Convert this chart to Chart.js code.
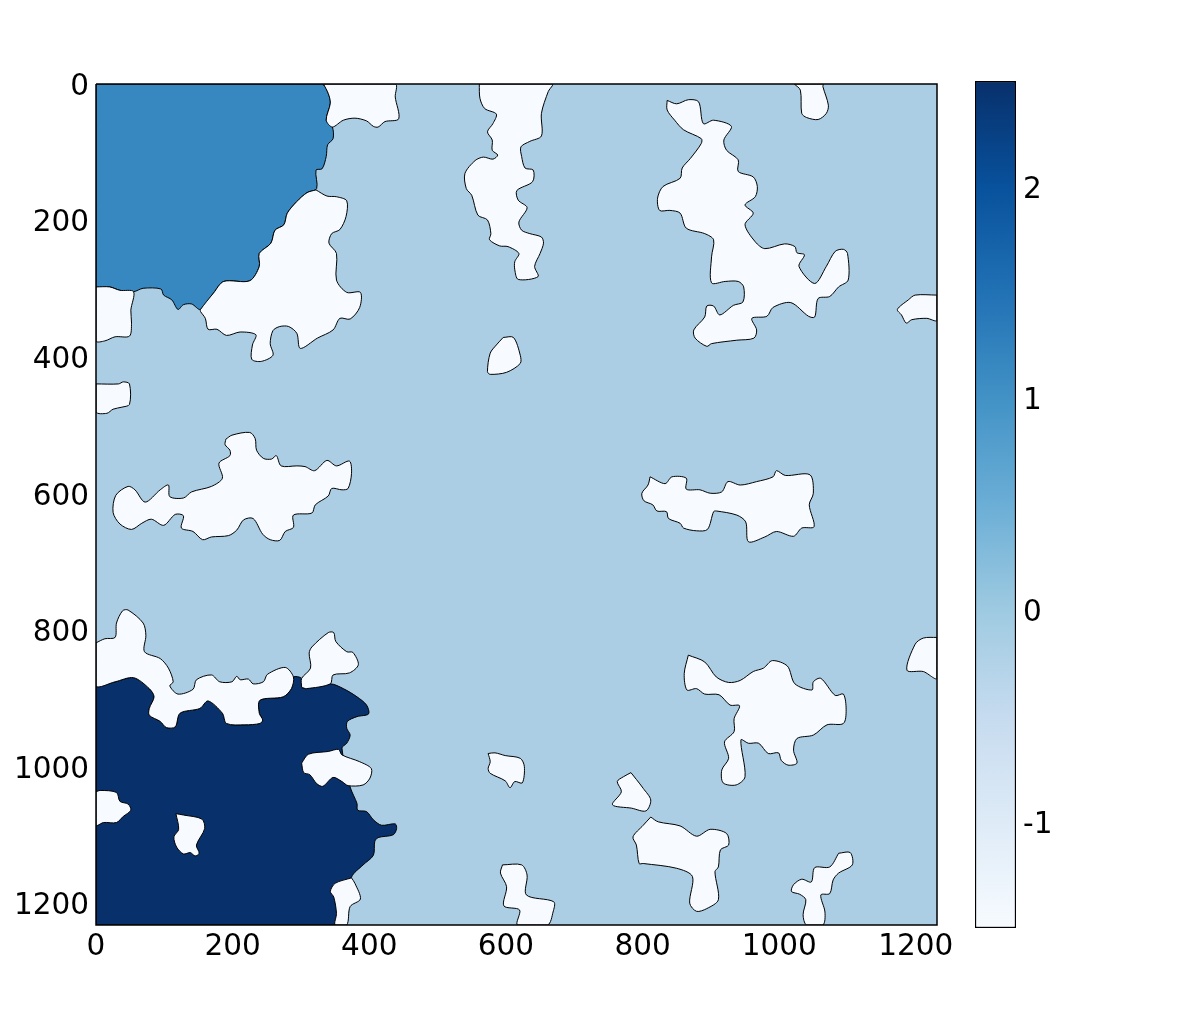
<!DOCTYPE html>
<html>
<head>
<meta charset="utf-8">
<script src="https://cdn.jsdelivr.net/npm/chart.js@4/dist/chart.umd.min.js"></script>
<style>
    body { margin: 0; background: #fff; }
    canvas { position: absolute; top: 0; }
    #mapChart { left: 0; }
    #barChart { left: 960px; }
</style>
</head>
<body>
<canvas id="mapChart" width="1196" height="1009"></canvas>
<canvas id="barChart" width="236" height="1009"></canvas>
<script>
// image size and tick labels
const imageSize = 1231;
const mapTicks = [0, 200, 400, 600, 800, 1000, 1200];
const barTicks = [-1, 0, 1, 2];
const barRange = [-1.5, 2.5];

// colormap stops (Blues), bottom to top
const blues = ['#f7fbff', '#deebf7', '#c6dbef', '#9ecae1', '#6baed6', '#4292c6', '#2171b5', '#08519c', '#08306b'];

// region colours
const lightColor = '#f7fbff';
const backColor = '#abcee4';
const midColor = '#3787c0';
const darkColor = '#08306b';

// region outlines, [col, row] in image units
const wholeImage = [[0, 0], [1231, 0], [1231, 1231], [0, 1231]];

const midRegion = [[0, 0], [330, 0], [340, 14], [343, 28], [337, 53], [346, 63], [347, 80], [339, 89], [337, 106], [331, 124], [322, 126], [323, 153], [309, 159], [294, 172], [280, 189], [275, 206], [262, 214], [256, 233], [239, 248], [239, 267], [225, 288], [187, 289], [172, 306], [153, 330], [140, 322], [128, 323], [120, 330], [111, 316], [99, 309], [95, 300], [69, 299], [55, 304], [35, 302], [20, 297], [0, 297]];

const darkRegion = [[0, 881], [28, 875], [55, 869], [78, 885], [85, 897], [78, 914], [78, 924], [94, 933], [103, 942], [116, 941], [123, 921], [152, 914], [164, 903], [185, 921], [191, 936], [218, 938], [240, 936], [244, 931], [239, 921], [240, 902], [274, 897], [286, 885], [289, 868], [301, 870], [301, 883], [308, 885], [343, 878], [362, 885], [382, 897], [396, 909], [399, 922], [382, 926], [368, 933], [367, 943], [372, 953], [367, 965], [360, 972], [372, 1029], [382, 1053], [383, 1063], [396, 1065], [406, 1077], [418, 1085], [438, 1083], [440, 1090], [435, 1099], [413, 1103], [408, 1109], [406, 1129], [391, 1143], [374, 1161], [358, 1231], [0, 1231]];

const topNotch = [[333, 0], [340, 14], [343, 28], [337, 53], [346, 63], [362, 53], [379, 50], [396, 54], [406, 62], [413, 63], [423, 55], [443, 51], [438, 19], [438, 0]];
const underMid = [[322, 155], [338, 164], [352, 165], [367, 171], [366, 194], [357, 213], [345, 219], [341, 233], [352, 248], [352, 287], [367, 305], [387, 305], [386, 327], [372, 344], [357, 343], [347, 360], [324, 372], [299, 387], [294, 365], [282, 355], [269, 355], [259, 361], [255, 380], [259, 397], [242, 406], [228, 403], [229, 382], [234, 367], [211, 363], [191, 368], [177, 359], [164, 359], [160, 343], [153, 333], [153, 330], [172, 306], [187, 289], [225, 288], [239, 267], [239, 248], [256, 233], [262, 214], [275, 206], [280, 189], [294, 172], [309, 159]];
const leftUpper = [[0, 297], [20, 297], [35, 302], [55, 304], [51, 331], [52, 350], [49, 369], [28, 370], [13, 376], [0, 376]];
const leftMiddle = [[0, 439], [33, 439], [40, 436], [49, 439], [49, 469], [38, 473], [25, 476], [16, 482], [0, 480]];
const topCenter = [[561, 0], [562, 21], [569, 36], [586, 44], [581, 58], [573, 70], [580, 82], [580, 97], [588, 104], [581, 110], [567, 107], [555, 112], [540, 131], [542, 153], [550, 163], [559, 192], [573, 199], [578, 219], [576, 228], [591, 237], [603, 238], [619, 248], [613, 260], [613, 272], [618, 286], [647, 282], [642, 267], [650, 248], [655, 233], [652, 224], [635, 219], [623, 214], [619, 202], [631, 181], [618, 170], [616, 156], [639, 143], [640, 126], [628, 123], [623, 106], [622, 92], [635, 84], [652, 76], [652, 43], [662, 11], [668, 0]];
const centerSmall = [[596, 371], [611, 371], [621, 397], [621, 409], [601, 422], [577, 425], [573, 421], [577, 394], [586, 382]];
const topRightSmall = [[1022, 0], [1031, 9], [1033, 43], [1040, 49], [1057, 52], [1069, 43], [1072, 31], [1064, 4], [1064, 0]];
const topRightBig = [[836, 24], [850, 29], [867, 23], [882, 26], [889, 58], [904, 53], [930, 62], [919, 82], [923, 97], [940, 111], [940, 128], [962, 136], [968, 150], [965, 165], [950, 177], [962, 189], [950, 206], [965, 231], [979, 241], [1008, 234], [1023, 238], [1026, 247], [1037, 250], [1029, 267], [1052, 292], [1069, 267], [1082, 245], [1094, 242], [1100, 248], [1101, 287], [1087, 297], [1074, 311], [1057, 314], [1052, 341], [1043, 340], [1017, 320], [991, 327], [982, 340], [960, 343], [967, 360], [963, 372], [938, 375], [901, 380], [894, 384], [877, 372], [875, 360], [891, 341], [894, 325], [904, 325], [913, 338], [933, 324], [947, 319], [948, 297], [940, 289], [921, 289], [901, 291], [901, 253], [904, 228], [891, 219], [864, 211], [855, 189], [840, 185], [825, 185], [822, 167], [830, 150], [855, 138], [858, 123], [870, 109], [886, 87], [886, 80], [860, 67], [847, 53], [836, 38]];
const rightUpper = [[1231, 309], [1199, 309], [1189, 316], [1173, 330], [1179, 338], [1186, 350], [1194, 345], [1216, 343], [1231, 346]];
const middleLeft = [[190, 520], [199, 514], [225, 510], [233, 519], [235, 536], [245, 548], [257, 549], [264, 544], [271, 559], [294, 559], [306, 560], [320, 566], [338, 551], [352, 559], [371, 552], [374, 570], [369, 592], [360, 594], [345, 592], [340, 603], [321, 616], [316, 628], [289, 631], [289, 649], [277, 655], [269, 668], [255, 667], [244, 659], [230, 636], [216, 638], [206, 653], [194, 661], [169, 663], [156, 667], [142, 655], [125, 650], [128, 632], [116, 630], [99, 646], [81, 637], [67, 643], [52, 652], [35, 644], [25, 627], [29, 602], [47, 589], [57, 594], [72, 612], [94, 594], [106, 587], [108, 604], [128, 606], [140, 597], [169, 589], [185, 577], [180, 555], [196, 544], [196, 536], [189, 528]];
const middleRight = [[811, 575], [833, 585], [843, 575], [864, 577], [864, 593], [884, 594], [899, 599], [916, 597], [925, 582], [943, 587], [967, 582], [991, 575], [996, 566], [1009, 573], [1045, 572], [1050, 599], [1044, 616], [1051, 648], [1033, 650], [1021, 662], [996, 655], [979, 663], [955, 670], [951, 641], [938, 631], [908, 625], [904, 626], [895, 652], [879, 654], [860, 650], [855, 643], [838, 636], [835, 626], [821, 625], [815, 616], [802, 610], [799, 599], [808, 587]];
const lowerStrip = [[0, 818], [13, 812], [28, 810], [30, 789], [39, 771], [47, 770], [69, 789], [73, 807], [71, 831], [94, 841], [106, 855], [113, 875], [108, 881], [120, 893], [142, 886], [147, 872], [169, 865], [181, 875], [199, 875], [206, 867], [211, 872], [223, 871], [230, 878], [245, 875], [251, 864], [277, 854], [289, 868], [286, 885], [274, 897], [240, 902], [239, 921], [244, 931], [240, 936], [218, 938], [191, 936], [185, 921], [164, 903], [152, 914], [123, 921], [116, 941], [103, 942], [94, 933], [78, 924], [78, 914], [85, 897], [78, 885], [55, 869], [28, 875], [0, 881]];
const lowerPeak = [[301, 883], [301, 870], [314, 855], [312, 833], [316, 824], [340, 803], [348, 803], [351, 816], [367, 831], [376, 832], [384, 850], [371, 862], [347, 865], [343, 878], [308, 885]];
const darkEdgeBlob = [[301, 994], [311, 981], [340, 977], [355, 974], [360, 982], [386, 992], [403, 1002], [401, 1016], [391, 1026], [369, 1027], [360, 1021], [347, 1015], [332, 1028], [323, 1024], [313, 1011], [304, 1008]];
const darkLeftBlob = [[0, 1036], [6, 1034], [30, 1037], [35, 1050], [47, 1054], [51, 1063], [40, 1072], [30, 1081], [11, 1081], [0, 1085]];
const darkInnerBlob = [[117, 1068], [128, 1070], [155, 1076], [159, 1090], [147, 1114], [151, 1126], [145, 1130], [138, 1125], [128, 1127], [118, 1117], [114, 1102], [121, 1091]];
const darkBottomBlob = [[374, 1162], [379, 1170], [387, 1193], [372, 1204], [367, 1231], [350, 1231], [352, 1214], [348, 1190], [343, 1182], [350, 1170]];
const lowerSmall = [[574, 980], [584, 979], [599, 983], [621, 987], [627, 999], [624, 1023], [613, 1021], [606, 1030], [599, 1020], [577, 1009], [574, 1002], [577, 992]];
const lowerTriangle = [[783, 1008], [791, 1018], [801, 1031], [812, 1048], [805, 1064], [784, 1060], [756, 1055], [769, 1036], [763, 1021], [772, 1014]];
const lowerBoot = [[812, 1073], [823, 1080], [855, 1086], [879, 1101], [899, 1091], [923, 1097], [926, 1114], [914, 1121], [911, 1146], [906, 1153], [911, 1194], [894, 1207], [879, 1211], [869, 1199], [873, 1160], [850, 1148], [801, 1141], [795, 1141], [791, 1114], [786, 1102], [801, 1085]];
const bottomCenter = [[595, 1143], [623, 1143], [631, 1158], [630, 1187], [670, 1197], [669, 1212], [661, 1231], [617, 1231], [620, 1209], [597, 1203], [601, 1175], [592, 1155]];
const bottomRight = [[1087, 1126], [1104, 1125], [1107, 1143], [1087, 1155], [1079, 1165], [1074, 1185], [1061, 1187], [1067, 1212], [1064, 1231], [1040, 1231], [1035, 1216], [1039, 1194], [1030, 1186], [1018, 1182], [1021, 1172], [1033, 1164], [1047, 1168], [1052, 1147], [1074, 1146]];
const lowerRightBig = [[867, 836], [891, 846], [908, 868], [926, 876], [943, 873], [962, 860], [977, 855], [990, 844], [1012, 852], [1023, 878], [1048, 887], [1050, 875], [1061, 870], [1082, 895], [1094, 893], [1098, 916], [1094, 936], [1070, 938], [1050, 953], [1026, 958], [1021, 975], [1026, 994], [1013, 997], [1003, 990], [999, 979], [984, 980], [970, 965], [955, 965], [944, 960], [950, 1014], [937, 1026], [918, 1023], [916, 1004], [926, 987], [920, 963], [934, 948], [934, 929], [942, 910], [928, 909], [912, 894], [891, 893], [879, 885], [865, 887], [861, 863]];
const rightLower = [[1231, 810], [1211, 811], [1199, 820], [1187, 858], [1211, 860], [1231, 870]];

const lightRegions = [topNotch, underMid, leftUpper, leftMiddle, topCenter, centerSmall, topRightSmall, topRightBig, rightUpper,
    middleLeft, middleRight, lowerStrip, lowerPeak, darkEdgeBlob, darkLeftBlob, darkInnerBlob, darkBottomBlob,
    lowerSmall, lowerTriangle, lowerBoot, bottomCenter, bottomRight, lowerRightBig, rightLower];

const tickFont = { family: '"DejaVu Sans"', size: 29.5 };

// closed outline as a scatter dataset
function region(points, color) {
    const closed = points.concat([points[0]]);
    return {
        data: closed.map(p => ({ x: p[0], y: p[1] })),
        showLine: true,
        fill: 'shape',
        backgroundColor: color,
        borderColor: '#000',
        borderWidth: 1,
        pointRadius: 0,
        tension: 0.3
    };
}

const frame = region(wholeImage, 'rgba(0,0,0,0)');
frame.fill = false;
frame.borderWidth = 1.5;
frame.clip = false;
frame.tension = 0;

const back = region(wholeImage, backColor);
back.borderWidth = 0;
back.tension = 0;

// first dataset is drawn on top
const mapChart = new Chart(document.getElementById('mapChart'), {
    type: 'scatter',
    data: {
        datasets: [
            frame,
            ...lightRegions.map(r => region(r, lightColor)),
            region(darkRegion, darkColor),
            region(midRegion, midColor),
            back
        ]
    },
    options: {
        responsive: false,
        animation: false,
        layout: { autoPadding: false, padding: { top: 84, right: 259, left: 0, bottom: 0 } },
        plugins: { legend: { display: false }, tooltip: { enabled: false } },
        scales: {
            x: {
                type: 'linear',
                min: 0,
                max: imageSize,
                grid: { display: false, drawTicks: false },
                border: { display: false },
                ticks: { color: '#000', font: tickFont, padding: 5, maxRotation: 0, callback: v => String(v) },
                afterBuildTicks: s => { s.ticks = mapTicks.map(v => ({ value: v })); },
                afterFit: s => { s.height = 84; }
            },
            y: {
                type: 'linear',
                reverse: true,
                min: 0,
                max: imageSize,
                grid: { display: false, drawTicks: false },
                border: { display: false },
                ticks: { color: '#000', font: tickFont, padding: 7, labelOffset: 3, callback: v => String(v) },
                afterBuildTicks: s => { s.ticks = mapTicks.map(v => ({ value: v })); },
                afterFit: s => { s.width = 96; }
            }
        }
    }
});

// colorbar
const barChart = new Chart(document.getElementById('barChart'), {
    type: 'bar',
    data: {
        labels: ['scale'],
        datasets: [{
            data: [barRange],
            barPercentage: 1,
            categoryPercentage: 1,
            borderColor: '#000',
            borderWidth: 1.5,
            borderSkipped: false,
            backgroundColor: function (c) {
                const area = c.chart.chartArea;
                if (!area) return blues[0];
                const g = c.chart.ctx.createLinearGradient(0, area.bottom, 0, area.top);
                blues.forEach((col, i) => g.addColorStop(i / (blues.length - 1), col));
                return g;
            }
        }]
    },
    options: {
        responsive: false,
        animation: false,
        layout: { autoPadding: false, padding: { top: 81, right: 0, left: 15, bottom: 81 } },
        plugins: { legend: { display: false }, tooltip: { enabled: false } },
        scales: {
            x: { display: false },
            y: {
                position: 'right',
                min: barRange[0],
                max: barRange[1],
                grid: { display: false, drawTicks: false },
                border: { display: false },
                ticks: { color: '#000', font: tickFont, padding: 7, labelOffset: 3, callback: v => String(v) },
                afterBuildTicks: s => { s.ticks = barTicks.map(v => ({ value: v })); },
                afterFit: s => { s.width = 180; }
            }
        }
    }
});
</script>
</body>
</html>
